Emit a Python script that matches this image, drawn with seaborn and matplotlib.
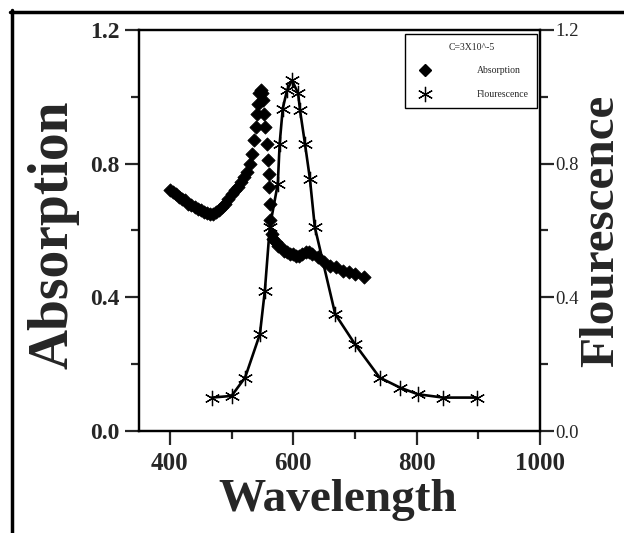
import matplotlib
matplotlib.use('Agg')
import matplotlib.pyplot as plt
import seaborn as sns
import pandas as pd
from matplotlib.lines import Line2D
from matplotlib.ticker import MultipleLocator

# ---- data ----
abs_wavelength = [400, 405, 410, 415, 420, 425, 430, 435, 440, 445, 450, 455, 460, 465,
                  470, 475, 480, 485, 490, 495, 500, 505, 510, 515, 520, 525, 530, 533,
                  536, 539, 541, 543, 545, 547, 549, 551, 553, 555, 557, 559, 560, 561,
                  562, 563, 565, 568, 572, 576, 580, 585, 590, 595, 600, 605, 610, 615,
                  620, 625, 630, 640, 650, 660, 670, 680, 690, 700, 715]
abs_value = [0.72, 0.715, 0.71, 0.70, 0.695, 0.69, 0.68, 0.675, 0.67, 0.665, 0.66, 0.655,
             0.652, 0.65, 0.65, 0.655, 0.66, 0.67, 0.68, 0.695, 0.71, 0.72, 0.73, 0.745,
             0.76, 0.775, 0.80, 0.83, 0.87, 0.91, 0.95, 0.98, 1.01, 1.02, 1.01, 0.99,
             0.95, 0.91, 0.86, 0.81, 0.77, 0.73, 0.68, 0.63, 0.59, 0.575, 0.565, 0.555,
             0.55, 0.54, 0.535, 0.53, 0.53, 0.525, 0.525, 0.53, 0.535, 0.535, 0.53, 0.52,
             0.505, 0.495, 0.49, 0.48, 0.475, 0.47, 0.46]

fl_wavelength = [468, 500, 522, 546, 554, 562, 575, 578, 583, 590, 598, 608, 611, 619,
                 627, 635, 668, 700, 740, 773, 802, 843, 898]
fl_value = [0.10, 0.105, 0.16, 0.29, 0.42, 0.61, 0.74, 0.86, 0.965, 1.02, 1.05, 1.01,
            0.96, 0.86, 0.755, 0.61, 0.35, 0.26, 0.16, 0.13, 0.11, 0.10, 0.10]

x_ticks = [400, 600, 800, 1000]
y_ticks = [0.0, 0.4, 0.8, 1.2]
y_tick_labels = ['0.0', '0.4', '0.8', '1.2']
legend_title = 'C=3X10^-5'
series_names = ['Absorption', 'Flourescence']

df_abs = pd.DataFrame({'wl': abs_wavelength, 'val': abs_value})
df_fl = pd.DataFrame({'wl': fl_wavelength, 'val': fl_value})

sns.set_style('ticks')
plt.rcParams['font.family'] = ['Liberation Serif', 'DejaVu Serif']

W, H = 624, 533
fig = plt.figure(figsize=(W / 100, H / 100), dpi=100)
L, R, T, B = 139, 540, 30, 431
ax = fig.add_axes([L / W, 1 - B / H, (R - L) / W, (B - T) / H])

asterisk = (6, 2, 0)

sns.scatterplot(data=df_abs, x='wl', y='val', marker='D', s=45, color='black',
                edgecolor='black', linewidth=0.6, ax=ax, zorder=3)
ax2 = ax.twinx()
sns.lineplot(data=df_fl, x='wl', y='val', color='black', linewidth=1.9,
             marker=asterisk, markersize=11, markeredgewidth=0.9,
             markeredgecolor='black', ax=ax2)

for a in (ax, ax2):
    a.set_xlim(350, 1000)
    a.set_ylim(0, 1.2)
    for s in a.spines.values():
        s.set_linewidth(1.6)
        s.set_color('black')
    a.set_xlabel('')
    a.set_ylabel('')

ax.set_xticks(x_ticks)
ax.xaxis.set_minor_locator(MultipleLocator(100))
ax.set_yticks(y_ticks)
ax.set_yticklabels(y_tick_labels)
ax.yaxis.set_minor_locator(MultipleLocator(0.2))
ax2.set_yticks(y_ticks)
ax2.set_yticklabels(y_tick_labels)
ax2.yaxis.set_minor_locator(MultipleLocator(0.2))

ax.tick_params(axis='both', which='major', direction='out', length=10, width=1.6,
               labelsize=17, pad=4)
ax.tick_params(axis='x', which='major', labelsize=18, pad=5)
ax.tick_params(axis='both', which='minor', direction='out', length=6, width=1.6)
ax.tick_params(axis='y', right=False)
ax.tick_params(axis='x', top=False, which='both')
ax2.tick_params(axis='y', which='major', direction='out', length=10, width=1.6,
                labelsize=13.5, pad=0.8)
ax2.tick_params(axis='y', which='minor', direction='out', length=6, width=1.6)
for lab in ax.get_xticklabels() + ax.get_yticklabels():
    lab.set_fontweight('bold')

ax.set_xlabel('Wavelength', fontsize=34, fontweight='bold')
ax.xaxis.set_label_coords(0.496, -0.172)
ax.xaxis.label.set(va='center')
ax.set_ylabel('Absorption', fontsize=40, fontweight='bold')
ax.yaxis.set_label_coords(-0.213, 0.49)
ax.yaxis.label.set(va='center', ha='center', rotation_mode='default')
ax2.set_ylabel('Flourescence', fontsize=35.5, fontweight='bold', rotation=90)
ax2.yaxis.set_label_coords(1.1534, 0.5)
ax2.yaxis.label.set(va='center', ha='center', rotation_mode='default')

handles = [Line2D([], [], marker='D', ls='none', color='black', ms=6.5),
           Line2D([], [], marker=asterisk, ls='none', color='black', ms=11, mew=0.9)]
leg = ax2.legend(handles=handles, labels=series_names, title=legend_title,
                 loc='upper right', bbox_to_anchor=(0.993, 0.99), fontsize=7,
                 title_fontsize=7, frameon=True, fancybox=False, framealpha=1,
                 edgecolor='black', handletextpad=4.2, borderpad=0.9,
                 labelspacing=1.5, borderaxespad=0, handlelength=2.2)
leg.get_frame().set_linewidth(1.0)

# outer frame of the figure
fig.add_artist(Line2D([10 / W, 1], [1 - 12 / H, 1 - 12 / H], transform=fig.transFigure,
                      color='black', lw=2.5))
fig.add_artist(Line2D([12 / W, 12 / W], [0, 1 - 10 / H], transform=fig.transFigure,
                      color='black', lw=2.5))

fig.savefig('out.png', dpi=100)
